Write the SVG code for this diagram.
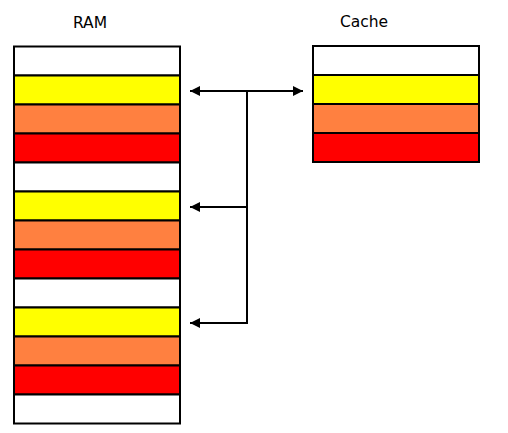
<svg xmlns="http://www.w3.org/2000/svg" width="508" height="433" viewBox="0 0 508 433">
<style>
.cell{stroke:#000;stroke-width:2}
.w{fill:#fff}.y{fill:#ffff00}.o{fill:#ff8040}.r{fill:#ff0000}
.lbl{font-family:"DejaVu Sans",sans-serif;font-size:15.5px;fill:#000}
.con{stroke:#000;stroke-width:2;fill:none}
</style>
<defs>
<marker id="ah" viewBox="0 0 10 10" refX="10" refY="5" markerWidth="10" markerHeight="10" markerUnits="userSpaceOnUse" orient="auto-start-reverse">
<path d="M0,0 L10,5 L0,10 Z" fill="#000"/>
</marker>
</defs>
<rect width="508" height="433" fill="#fff"/>
<g id="ram">
<text class="lbl" x="90" y="28" text-anchor="middle">RAM</text>
<rect class="cell w" x="14" y="46.5" width="166" height="29"/>
<rect class="cell y" x="14" y="75.5" width="166" height="29"/>
<rect class="cell o" x="14" y="104.5" width="166" height="29"/>
<rect class="cell r" x="14" y="133.5" width="166" height="29"/>
<rect class="cell w" x="14" y="162.5" width="166" height="29"/>
<rect class="cell y" x="14" y="191.5" width="166" height="29"/>
<rect class="cell o" x="14" y="220.5" width="166" height="29"/>
<rect class="cell r" x="14" y="249.5" width="166" height="29"/>
<rect class="cell w" x="14" y="278.5" width="166" height="29"/>
<rect class="cell y" x="14" y="307.5" width="166" height="29"/>
<rect class="cell o" x="14" y="336.5" width="166" height="29"/>
<rect class="cell r" x="14" y="365.5" width="166" height="29"/>
<rect class="cell w" x="14" y="394.5" width="166" height="29"/>
</g>
<g id="cache">
<text class="lbl" x="364" y="27" text-anchor="middle">Cache</text>
<rect class="cell w" x="313" y="46" width="166" height="29"/>
<rect class="cell y" x="313" y="75" width="166" height="29"/>
<rect class="cell o" x="313" y="104" width="166" height="29"/>
<rect class="cell r" x="313" y="133" width="166" height="29"/>
</g>
<g id="connectors">
<line class="con" x1="190" y1="91" x2="303" y2="91" marker-start="url(#ah)" marker-end="url(#ah)"/>
<line class="con" x1="247" y1="91" x2="247" y2="323"/>
<line class="con" x1="247" y1="207" x2="190" y2="207" marker-end="url(#ah)"/>
<line class="con" x1="248" y1="323" x2="190" y2="323" marker-end="url(#ah)"/>
</g>
</svg>
